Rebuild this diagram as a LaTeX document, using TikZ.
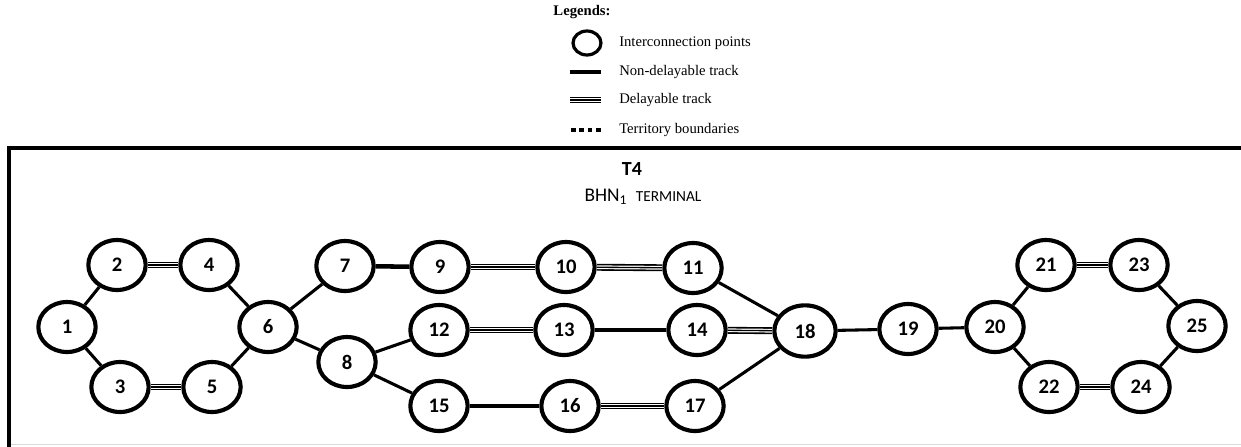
\documentclass[tikz,border=0pt]{standalone}
\usepackage{fontspec}
\setmainfont{Liberation Serif}
\newfontfamily\carlitofont{Carlito}
\usetikzlibrary{shapes.geometric}
\begin{document}
\begin{tikzpicture}[x=0.75pt,y=-0.75pt,
  pt/.style={ellipse,draw,line width=3.1pt,fill=white,minimum width=43pt,minimum height=37.5pt,inner sep=0pt,font=\carlitofont\bfseries\fontsize{15.5}{15.5}\selectfont},
  nd/.style={line width=2.3pt},
  ndk/.style={line width=3.4pt},
  dl/.style={line width=5.2pt,draw=black,postaction={draw=white,line width=2.8pt},postaction={draw=black,line width=1pt}},
  lg/.style={anchor=west,font=\fontsize{11}{11}\selectfont,inner sep=0pt}]
\useasboundingbox (0,0) rectangle (1241,446);
% legend
\node[font=\bfseries\fontsize{11}{11}\selectfont,inner sep=0pt] (leg) at (582,12) {Legends:};
\node[ellipse,draw,line width=2.4pt,minimum width=21pt,minimum height=18pt,inner sep=0pt] (lc) at (587,43) {};
\node[lg] (t1) at (619,43) {Interconnection points};
\coordinate (a1) at (570,72); \coordinate (b1) at (601,72);
\draw[line width=3pt] (a1) -- (b1);
\node[lg] (t2) at (619,72) {Non-delayable track};
\coordinate (a2) at (570,100); \coordinate (b2) at (601,100);
\draw[dl] (a2) -- (b2);
\node[lg] (t3) at (619,100) {Delayable track};
\coordinate (a3) at (571,130); \coordinate (b3) at (603,130);
\draw[line width=3pt,dash pattern=on 3.6pt off 2.6pt] (a3) -- (b3);
\node[lg] (t4) at (619,130) {Territory boundaries};
% territory box
\coordinate (c1) at (9,448); \coordinate (c2) at (9,148); \coordinate (c3) at (1245,148);
\draw[line width=3pt] (c1) -- (c2) -- (c3);
\coordinate (g1) at (11,444.5); \coordinate (g2) at (1241,444.5);
\draw[black!15,line width=0.8pt] (g1) -- (g2);
\node[font=\carlitofont\bfseries\fontsize{15}{15}\selectfont,inner sep=0pt] (T4) at (632,169) {T4};
\node[font=\carlitofont\fontsize{14.5}{14.5}\selectfont,inner sep=0pt] (bhn) at (643,197) {BHN\textsubscript{1}\hspace{0.45em}{\fontsize{11.5}{11.5}\selectfont TERMINAL}};
% nodes
\node[pt] (n1) at (67,327) {1};
\node[pt] (n2) at (117,265) {2};
\node[pt] (n3) at (120,387) {3};
\node[pt] (n4) at (209,265) {4};
\node[pt] (n5) at (212,387) {5};
\node[pt] (n6) at (268,327) {6};
\node[pt] (n7) at (345,266) {7};
\node[pt] (n8) at (347,362) {8};
\node[pt] (n9) at (440,267) {9};
\node[pt] (n10) at (566,267) {10};
\node[pt] (n11) at (693,268) {11};
\node[pt] (n12) at (439,330) {12};
\node[pt] (n13) at (564,330) {13};
\node[pt] (n14) at (697,330) {14};
\node[pt] (n15) at (439,406) {15};
\node[pt] (n16) at (570,406) {16};
\node[pt] (n17) at (695,406) {17};
\node[pt,minimum width=46pt,minimum height=38.5pt] (n18) at (805,331) {18};
\node[pt] (n19) at (908,329) {19};
\node[pt] (n20) at (995,327) {20};
\node[pt] (n21) at (1046,265) {21};
\node[pt] (n22) at (1049,387) {22};
\node[pt] (n23) at (1139,265) {23};
\node[pt] (n24) at (1141,387) {24};
\node[pt] (n25) at (1197,326) {25};
% edges
\draw[nd] (n1) -- (n2);
\draw[nd] (n1) -- (n3);
\draw[dl] (n2) -- (n4);
\draw[dl] (n3) -- (n5);
\draw[nd] (n4) -- (n6);
\draw[nd] (n5) -- (n6);
\draw[nd] (n6) -- (n7);
\draw[nd] (n6) -- (n8);
\draw[ndk] (n7) -- (n9);
\draw[nd] (n8) -- (n12);
\draw[nd] (n8) -- (n15);
\draw[dl] (n9) -- (n10);
\draw[dl] (n10) -- (n11);
\draw[dl] (n12) -- (n13);
\draw[nd] (n13) -- (n14);
\draw[dl] (n14) -- (n18);
\draw[ndk] (n15) -- (n16);
\draw[dl] (n16) -- (n17);
\draw[nd] (n11) -- (n18);
\draw[nd] (n17) -- (n18);
\draw[nd] (n18) -- (n19);
\draw[nd] (n19) -- (n20);
\draw[nd] (n20) -- (n21);
\draw[nd] (n20) -- (n22);
\draw[dl] (n21) -- (n23);
\draw[dl] (n22) -- (n24);
\draw[nd] (n23) -- (n25);
\draw[nd] (n24) -- (n25);
\end{tikzpicture}
\end{document}
